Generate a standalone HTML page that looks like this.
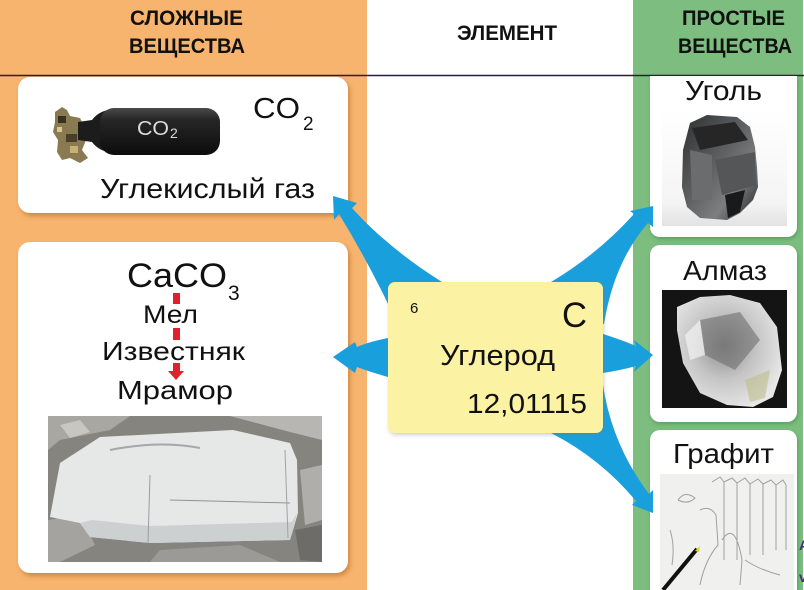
<!DOCTYPE html>
<html><head><meta charset="utf-8">
<style>
html,body{margin:0;padding:0;background:#fff;overflow:hidden;}
svg{display:block;}
text{font-family:"Liberation Sans","DejaVu Sans",sans-serif;fill:#111;}
.b{font-weight:bold;}
</style></head><body>
<svg width="804" height="590" viewBox="0 0 804 590" xmlns="http://www.w3.org/2000/svg">
<defs>
<filter id="sh" x="-10%" y="-10%" width="130%" height="130%"><feDropShadow dx="2" dy="3" stdDeviation="2.5" flood-color="#a04d10" flood-opacity="0.45"/></filter>
<filter id="shg" x="-10%" y="-10%" width="130%" height="130%"><feDropShadow dx="1" dy="2" stdDeviation="2" flood-color="#2c6a30" flood-opacity="0.4"/></filter>
<filter id="shy" x="-10%" y="-10%" width="130%" height="130%"><feDropShadow dx="1" dy="2" stdDeviation="2" flood-color="#777" flood-opacity="0.35"/></filter>
<linearGradient id="cyl" x1="0" y1="0" x2="0" y2="1">
<stop offset="0" stop-color="#4a4a4a"/><stop offset="0.25" stop-color="#262626"/><stop offset="1" stop-color="#0c0c0c"/></linearGradient>
<linearGradient id="coal" x1="0" y1="0" x2="1" y2="1">
<stop offset="0" stop-color="#2e2e2e"/><stop offset="0.45" stop-color="#5e6062"/><stop offset="0.7" stop-color="#7c7e80"/><stop offset="1" stop-color="#242424"/></linearGradient>
<radialGradient id="gem" cx="0.45" cy="0.45" r="0.6">
<stop offset="0" stop-color="#8a8a8a"/><stop offset="0.5" stop-color="#c4c4c4"/><stop offset="1" stop-color="#e8e8e8"/></radialGradient>
<linearGradient id="coalbg" x1="0" y1="0" x2="0" y2="1">
<stop offset="0" stop-color="#ffffff"/><stop offset="0.8" stop-color="#f4f4f4"/><stop offset="1" stop-color="#e2e2e2"/></linearGradient>
</defs>

<rect width="804" height="590" fill="#fff"/>
<rect x="0" y="0" width="367" height="590" fill="#F7B46E"/>
<rect x="633" y="0" width="170" height="590" fill="#7DBE80"/>
<line x1="0" y1="75.5" x2="804" y2="75.5" stroke="#2a1a46" stroke-width="1.5"/>

<!-- headers -->
<text class="b" x="130" y="25" font-size="21" textLength="113" lengthAdjust="spacingAndGlyphs">СЛОЖНЫЕ</text>
<text class="b" x="129" y="53" font-size="21" textLength="116" lengthAdjust="spacingAndGlyphs">ВЕЩЕСТВА</text>
<text class="b" x="457" y="40" font-size="21" textLength="100" lengthAdjust="spacingAndGlyphs">ЭЛЕМЕНТ</text>
<text class="b" x="682" y="25" font-size="21" textLength="103" lengthAdjust="spacingAndGlyphs">ПРОСТЫЕ</text>
<text class="b" x="678" y="53" font-size="21" textLength="114" lengthAdjust="spacingAndGlyphs">ВЕЩЕСТВА</text>

<!-- left cards -->
<rect x="18" y="77" width="330" height="136" rx="12" fill="#fff" filter="url(#sh)"/>
<rect x="18" y="242" width="330" height="331" rx="12" fill="#fff" filter="url(#sh)"/>

<!-- CO2 cylinder -->
<g>
<path d="M55 112 L62 107 L67 110 L70 116 L80 118 L84 126 L86 140 L82 150 L88 158 L80 163 L70 158 L62 160 L57 152 L58 140 L53 132 L55 122 Z" fill="#8a7a52"/>
<rect x="58" y="116" width="8" height="7" fill="#3a3020"/>
<rect x="66" y="134" width="11" height="8" fill="#4a3e26"/>
<rect x="70" y="146" width="8" height="7" fill="#c8b070"/>
<rect x="57" y="127" width="5" height="5" fill="#d8c890"/>
<path d="M78 122 L92 120 Q98 112 108 110 L108 152 Q98 150 92 142 L78 140 Z" fill="#1c1c1c"/>
<rect x="100" y="108" width="120" height="47" rx="14" fill="url(#cyl)"/>
<text x="137" y="135" font-size="20" textLength="32" lengthAdjust="spacingAndGlyphs" style="fill:#dcdcdc">CO</text>
<text x="170" y="138" font-size="14" style="fill:#dcdcdc">2</text>
</g>
<text x="253" y="118" font-size="29" textLength="47" lengthAdjust="spacingAndGlyphs">CO</text>
<text x="303" y="130" font-size="19">2</text>
<text x="100" y="198" font-size="28" textLength="215" lengthAdjust="spacingAndGlyphs">Углекислый газ</text>

<!-- CaCO3 card -->
<text x="127" y="287" font-size="34" textLength="100" lengthAdjust="spacingAndGlyphs">CaCO</text>
<text x="228" y="300" font-size="21">3</text>
<text x="143" y="323" font-size="25" textLength="55" lengthAdjust="spacingAndGlyphs">Мел</text>
<text x="102" y="360" font-size="26" textLength="143" lengthAdjust="spacingAndGlyphs">Известняк</text>
<text x="117" y="399" font-size="26" textLength="116" lengthAdjust="spacingAndGlyphs">Мрамор</text>
<rect x="173" y="293" width="7" height="11" fill="#e1202b"/>
<rect x="173" y="328" width="7" height="12" fill="#e1202b"/>
<rect x="173" y="363" width="7" height="8" fill="#e1202b"/>
<polygon points="168,371 184,371 176,380" fill="#e1202b"/>

<!-- marble photo -->
<g>
<rect x="48" y="416" width="274" height="146" fill="#86847f"/>
<polygon points="48,416 130,416 110,430 60,440 48,450" fill="#a9a7a2"/>
<polygon points="60,425 80,420 90,432 70,438" fill="#c8c6c2"/>
<polygon points="230,416 322,416 322,440 290,432" fill="#b8b6b2"/>
<polygon points="300,470 322,465 322,520 305,525" fill="#b0aeaa"/>
<polygon points="48,520 80,515 95,545 60,562 48,562" fill="#a5a39f"/>
<polygon points="160,550 240,545 280,562 150,562" fill="#9c9a96"/>
<polygon points="295,530 322,525 322,562 300,560" fill="#6e6c68"/>
<polygon points="60,463 100,437 233,430 290,443 297,460 298,513 290,540 150,543 90,537 80,523 50,517" fill="#e6e8e8"/>
<polygon points="80,523 90,537 150,543 290,540 297,513 292,522 150,526 92,520" fill="#cdd0d1"/>
<line x1="150" y1="475" x2="148" y2="543" stroke="#9a9c9e" stroke-width="1"/>
<line x1="170" y1="500" x2="290" y2="503" stroke="#8f9193" stroke-width="1"/>
<line x1="285" y1="450" x2="288" y2="538" stroke="#a0a2a4" stroke-width="1"/>
<path d="M110 450 Q160 440 200 448" stroke="#a5a8aa" stroke-width="2" fill="none"/>
</g>

<!-- right cards -->
<path d="M650 76 H797 V227 a10 10 0 0 1 -10 10 H660 a10 10 0 0 1 -10 -10 Z" fill="#fff" filter="url(#shg)"/>
<rect x="650" y="245" width="147" height="177" rx="10" fill="#fff" filter="url(#shg)"/>
<rect x="650" y="430" width="147" height="180" rx="10" fill="#fff" filter="url(#shg)"/>

<text x="685" y="100" font-size="28" textLength="77" lengthAdjust="spacingAndGlyphs">Уголь</text>
<text x="683" y="280" font-size="28" textLength="84" lengthAdjust="spacingAndGlyphs">Алмаз</text>
<text x="673" y="463" font-size="28" textLength="101" lengthAdjust="spacingAndGlyphs">Графит</text>

<!-- coal -->
<rect x="662" y="110" width="125" height="116" fill="url(#coalbg)"/>
<polygon points="690,123 707,115 737,117 750,127 755,147 757,167 758,187 753,200 740,213 727,220 700,218 687,207 682,187 683,150" fill="url(#coal)"/>
<polygon points="692,128 735,122 748,140 700,150" fill="#262626"/>
<polygon points="715,160 755,152 756,185 722,195" fill="#545658"/>
<polygon points="725,195 745,190 740,212 728,218" fill="#1a1a1a"/>
<polygon points="690,150 712,155 712,200 692,200" fill="#6a6c6e"/>

<!-- diamond -->
<rect x="662" y="290" width="125" height="118" fill="#141414"/>
<polygon points="677,307 700,297 730,295 760,303 777,327 782,370 773,397 753,407 727,405 700,393 683,363 677,330" fill="url(#gem)"/>
<polygon points="700,320 740,312 760,340 735,370 705,355" fill="#6e6e6e" opacity="0.6"/>
<polygon points="685,335 700,320 705,355 690,360" fill="#f4f4f4" opacity="0.7"/>
<polygon points="745,380 770,370 765,398 750,402" fill="#bdbd8a" opacity="0.6"/>

<!-- graphite drawing -->
<rect x="660" y="474" width="134" height="116" fill="#f0f0ee"/>
<g stroke="#a0a0a0" stroke-width="1" fill="none">
<path d="M712 482 L720 477 L724 482 L724 560"/><path d="M724 482 L732 478 L737 483 L737 560"/>
<path d="M737 483 L745 478 L750 484 L750 555"/><path d="M750 484 L758 479 L763 484 L763 555"/>
<path d="M763 484 L771 480 L776 485 L776 550"/><path d="M776 485 L783 480 L786 485 L786 550"/>
<path d="M700 510 Q710 505 716 515 L718 545 Q705 560 700 585"/>
<path d="M722 540 Q735 520 742 560 L740 585"/>
<path d="M678 500 Q685 490 695 498 Q688 505 678 500"/>
<path d="M670 530 Q675 545 672 565"/><path d="M745 560 Q760 570 780 575"/>
</g>
<line x1="663" y1="590" x2="697" y2="549" stroke="#111" stroke-width="4"/>
<polygon points="695,551 700,546 699,552" fill="#e8d020"/>

<!-- arrows -->
<g fill="#1A9FDD">
<path d="M445 300 L442 282 Q388 248 352 208 L357 203 L333 196 L334 220 L339 214 Q366 258 389 306 L400 306 Z"/>
<path d="M395 336 L388 338 Q368 342 357 347 L355 342 L333 357 L355 373 L357 367 Q370 372 388 377 L395 377 Z"/>
<path d="M596 334 L603 334 Q622 340 636 346 L634 340 L653 355 L634 372 L636 366 Q622 370 603 373 L596 373 Z"/>
<path d="M551 292 L551 282 Q598 254 634 214 L630 211 L653 206 L653 227 L648 223 Q614 262 604 324 L596 324 Z"/>
<path d="M596 385 L603 385 Q612 445 649 494 L653 490 L653 513 L632 505 L636 501 Q600 458 551 433 L551 425 Z"/>
</g>

<!-- element box -->
<rect x="388" y="282" width="215" height="151" rx="7" fill="#FCF2A4" filter="url(#shy)"/>
<text x="410" y="313" font-size="15">6</text>
<text x="562" y="327" font-size="35" textLength="25" lengthAdjust="spacingAndGlyphs">C</text>
<text x="440" y="365" font-size="29" textLength="115" lengthAdjust="spacingAndGlyphs">Углерод</text>
<text x="467" y="413" font-size="28" textLength="120" lengthAdjust="spacingAndGlyphs">12,01115</text>

<!-- edge fragments -->
<text x="799" y="550" font-size="14" class="b" style="fill:#4a2a7a">А</text>
<text x="799" y="582" font-size="14" class="b" style="fill:#4a2a7a">v</text>
</svg>
</body></html>
